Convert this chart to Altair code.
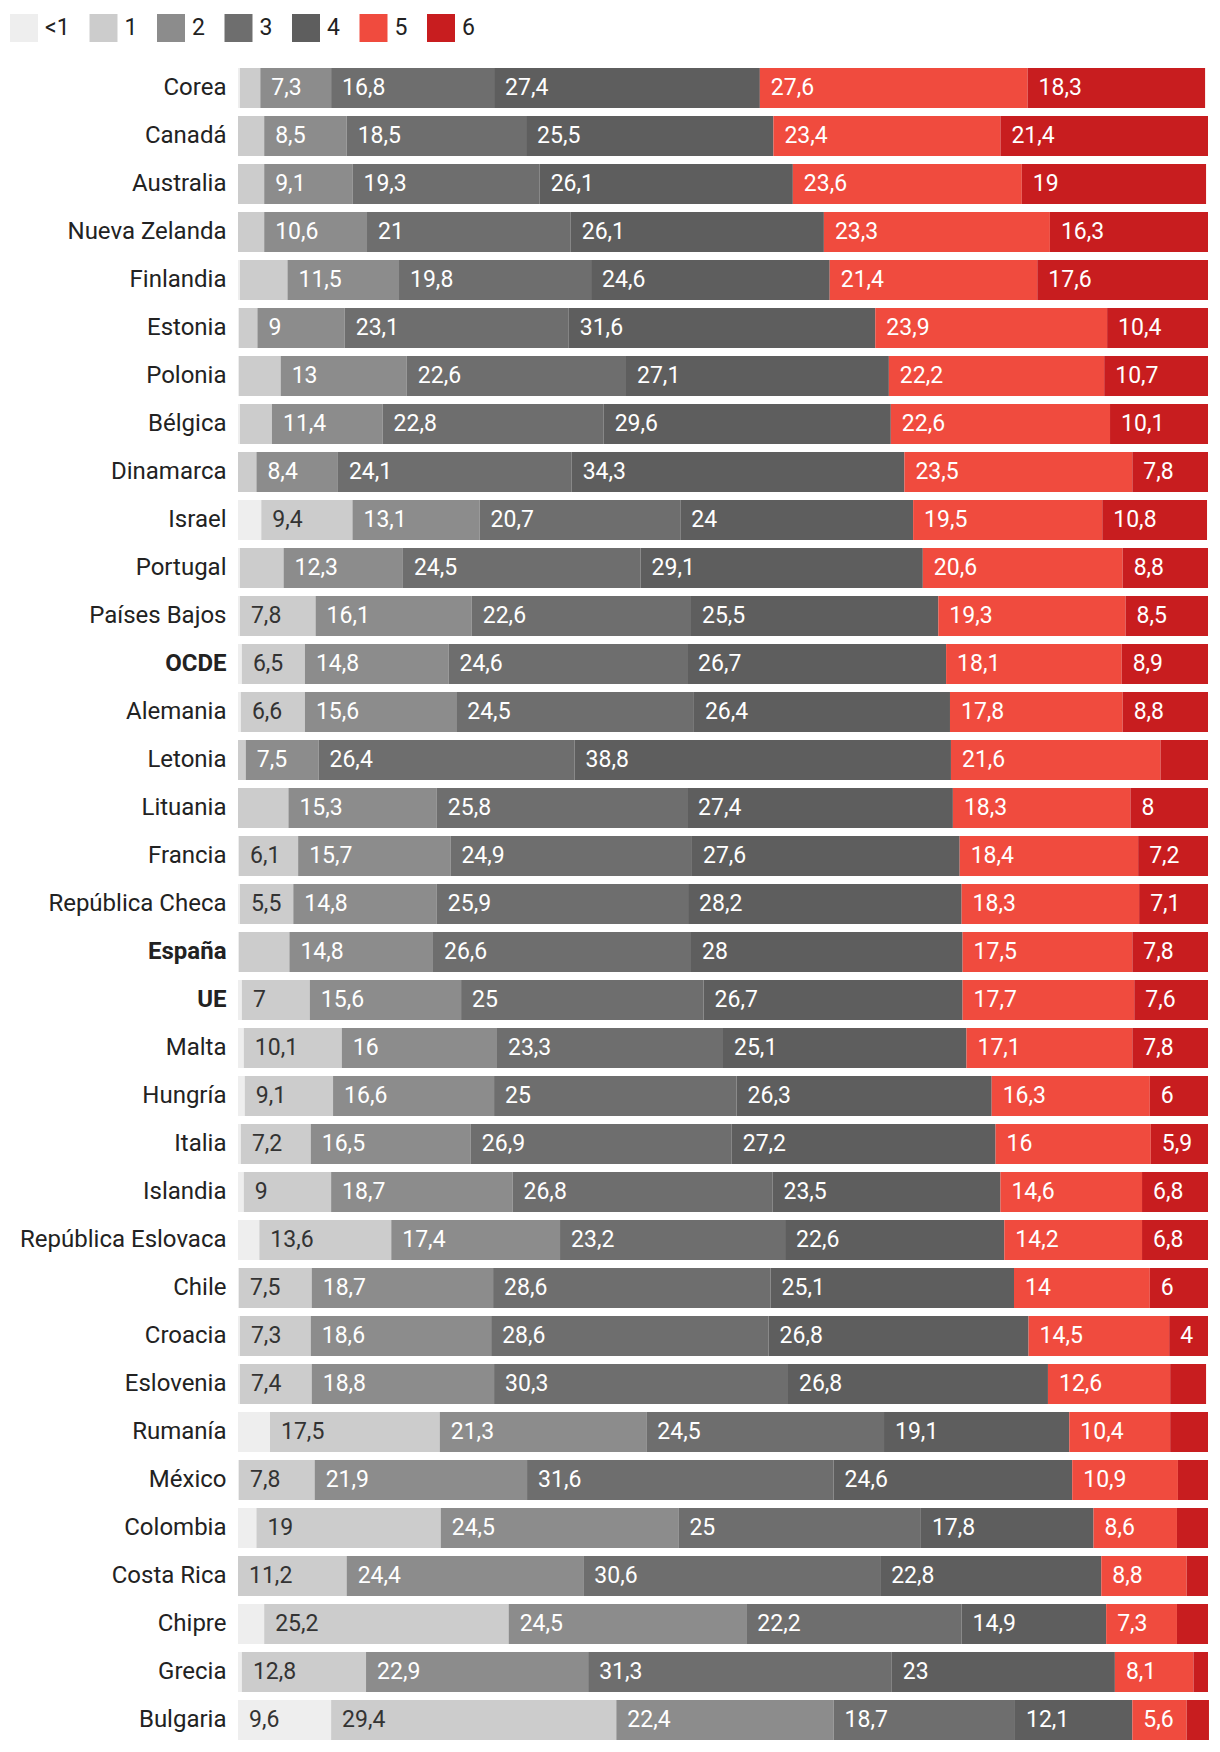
import altair as alt
import pandas as pd

countries = ["Corea", "Canadá", "Australia", "Nueva Zelanda", "Finlandia", "Estonia",
             "Polonia", "Bélgica", "Dinamarca", "Israel", "Portugal", "Países Bajos",
             "OCDE", "Alemania", "Letonia", "Lituania", "Francia", "República Checa",
             "España", "UE", "Malta", "Hungría", "Italia", "Islandia",
             "República Eslovaca", "Chile", "Croacia", "Eslovenia", "Rumanía", "México",
             "Colombia", "Costa Rica", "Chipre", "Grecia", "Bulgaria"]

categories = ["<1", "1", "2", "3", "4", "5", "6"]
colors = ["#eeeeee", "#cccccc", "#8c8c8c", "#6e6e6e", "#5e5e5e", "#f04b3e", "#c81d1f"]

lt1 = [0.2, 0, 0, 0, 0.2, 0.1, 0.1, 0.2, 0, 2.4, 0.2, 0.2, 0.4, 0.3, 0, 0, 0.1, 0.2, 0.1,
       0.4, 0.6, 0.7, 0.3, 0.6, 2.2, 0.1, 0.2, 0.2, 3.3, 0.1, 1.9, 0, 2.7, 0.4, 9.6]
c1 = [2.1, 2.7, 2.7, 2.7, 4.9, 1.9, 4.3, 3.3, 1.9, 9.4, 4.5, 7.8, 6.5, 6.6, 0.8, 5.2, 6.1,
      5.5, 5.2, 7, 10.1, 9.1, 7.2, 9, 13.6, 7.5, 7.3, 7.4, 17.5, 7.8, 19, 11.2, 25.2, 12.8, 29.4]
c2 = [7.3, 8.5, 9.1, 10.6, 11.5, 9, 13, 11.4, 8.4, 13.1, 12.3, 16.1, 14.8, 15.6, 7.5, 15.3,
      15.7, 14.8, 14.8, 15.6, 16, 16.6, 16.5, 18.7, 17.4, 18.7, 18.6, 18.8, 21.3, 21.9, 24.5,
      24.4, 24.5, 22.9, 22.4]
c3 = [16.8, 18.5, 19.3, 21, 19.8, 23.1, 22.6, 22.8, 24.1, 20.7, 24.5, 22.6, 24.6, 24.5, 26.4,
      25.8, 24.9, 25.9, 26.6, 25, 23.3, 25, 26.9, 26.8, 23.2, 28.6, 28.6, 30.3, 24.5, 31.6, 25,
      30.6, 22.2, 31.3, 18.7]
c4 = [27.4, 25.5, 26.1, 26.1, 24.6, 31.6, 27.1, 29.6, 34.3, 24, 29.1, 25.5, 26.7, 26.4, 38.8,
      27.4, 27.6, 28.2, 28, 26.7, 25.1, 26.3, 27.2, 23.5, 22.6, 25.1, 26.8, 26.8, 19.1, 24.6,
      17.8, 22.8, 14.9, 23, 12.1]
c5 = [27.6, 23.4, 23.6, 23.3, 21.4, 23.9, 22.2, 22.6, 23.5, 19.5, 20.6, 19.3, 18.1, 17.8, 21.6,
      18.3, 18.4, 18.3, 17.5, 17.7, 17.1, 16.3, 16, 14.6, 14.2, 14, 14.5, 12.6, 10.4, 10.9, 8.6,
      8.8, 7.3, 8.1, 5.6]
c6 = [18.3, 21.4, 19, 16.3, 17.6, 10.4, 10.7, 10.1, 7.8, 10.8, 8.8, 8.5, 8.9, 8.8, 4.9, 8, 7.2,
      7.1, 7.8, 7.6, 7.8, 6, 5.9, 6.8, 6.8, 6, 4, 3.7, 3.9, 3.1, 3.2, 2.2, 3.2, 1.5, 2.3]

bold_rows = ["OCDE", "España", "UE"]
label_min = 5.4
extra_labels = [("Croacia", "6")]

series = [lt1, c1, c2, c3, c4, c5, c6]
rows = []
for i, c in enumerate(countries):
    for k, cat in enumerate(categories):
        v = series[k][i]
        txt = f"{v:g}".replace(".", ",")
        show = v >= label_min or (c, cat) in extra_labels
        rows.append(dict(country=c, cat=cat, order=k, value=v, label=txt if show else ""))
df = pd.DataFrame(rows)

FS = 23
bold_expr = "indexof(" + str(bold_rows) + ", datum.value) >= 0 ? 'bold' : 'normal'"

y = alt.Y("country:N", sort=countries,
          scale=alt.Scale(paddingInner=1 / 6, paddingOuter=1 / 12),
          axis=alt.Axis(title=None, domain=False, ticks=False, grid=False,
                        labelFont="Roboto", labelFontSize=24, labelColor="#222222",
                        labelPadding=12, labelLimit=400,
                        labelFontWeight=alt.expr(bold_expr)))

xscale = alt.Scale(domain=[0, 100], nice=False, zero=True)

base = alt.Chart(df).transform_stack(
    stack="value", groupby=["country"], as_=["x0", "x1"],
    sort=[alt.SortField("order", order="ascending")])

bars = base.mark_bar(strokeWidth=0).encode(
    x=alt.X("x0:Q", scale=xscale, axis=None),
    x2="x1:Q",
    y=y,
    color=alt.Color("cat:N", scale=alt.Scale(domain=categories, range=colors),
                    legend=alt.Legend(title=None, orient="none", legendX=-228, legendY=-50,
                                      direction="horizontal", symbolType="square",
                                      symbolSize=784, symbolStrokeWidth=0,
                                      labelFont="Roboto", labelFontSize=FS,
                                      labelColor="#222222", labelOffset=7,
                                      columnPadding=19.5, padding=0, symbolOpacity=1)),
)

labels = base.mark_text(align="left", baseline="middle", dx=11, font="Roboto",
                        fontSize=FS).encode(
    x=alt.X("x0:Q", scale=xscale, axis=None),
    y=y,
    text="label:N",
    color=alt.condition("datum.cat == '<1' || datum.cat == '1'",
                        alt.value("#333333"), alt.value("#ffffff")),
)

chart = alt.layer(bars, labels).properties(
    width=970, height=1680,
    background="white",
    autosize=alt.AutoSizeParams(type="none"),
    padding={"left": 230, "top": 56, "right": 4, "bottom": 4},
).configure_view(strokeWidth=0, stroke="transparent").configure_axis(grid=False)

chart.save("out.html", embed_options={"renderer": "svg", "actions": False})
